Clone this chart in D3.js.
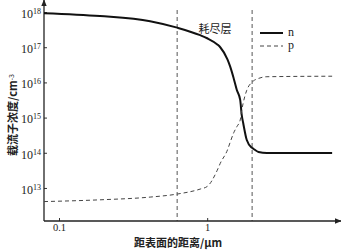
<!DOCTYPE html>
<html>
<head>
<meta charset="utf-8">
<script src="https://cdn.jsdelivr.net/npm/d3@7"></script>
<style>
  body { margin: 0; background: #fff; }
  svg { display: block; }
  .cjk { font-family: "Noto Sans CJK SC", sans-serif; fill: #222; }
</style>
</head>
<body>
<div id="chart"></div>
<script>
// distance from surface (um) and carrier densities (cm^-3)
const depth = [0.0792, 0.189, 0.412, 0.627, 0.897, 1.0, 1.17, 1.225, 1.37, 1.43, 1.51, 1.585, 1.67, 1.71, 1.75, 1.85, 2.0, 2.05, 2.22, 2.53, 6.97]
const nValues = [9.3e17, 7.7e17, 5.5e17, 3.6e17, 2.2e17, 1.8e17, 1.2e17, 1.0e17, 4.5e16, 2.8e16, 1.3e16, 6.1e15, 3.2e15, 1.2e15, 7e14, 2.3e14, 1.4e14, 1.3e14, 1.05e14, 9.8e13, 9.8e13]
const pValues = [4.1e12, 4.6e12, 5.5e12, 6.7e12, 9.3e12, 1.1e13, 3.2e13, 5e13, 1.2e14, 2e14, 3.7e14, 5.5e14, 8.5e14, 1.6e15, 2.6e15, 6e15, 1.0e16, 1.1e16, 1.3e16, 1.45e16, 1.5e16]
const depletionEdges = [0.627, 2.01]
const xTicks = [0.1, 1]
const xTickLabels = ["0.1", "1"]
const yTicks = [1e13, 1e14, 1e15, 1e16, 1e17, 1e18]
const yTickExponents = ["13", "14", "15", "16", "17", "18"]
const seriesNames = ["n", "p"]

const width = 341
const height = 250

const svg = d3.select("#chart").append("svg")
  .attr("width", width)
  .attr("height", height)

const x = d3.scaleLog().domain([0.0792, 8.0]).range([44, 341])
const y = d3.scaleLog().domain([1.15e12, 2.2e18]).range([221, 0])

svg.append("defs").append("marker")
    .attr("id", "arrow")
    .attr("viewBox", "0 0 10 10")
    .attr("refX", 9).attr("refY", 5)
    .attr("markerWidth", 7).attr("markerHeight", 7)
    .attr("markerUnits", "userSpaceOnUse")
    .attr("orient", "auto")
  .append("path")
    .attr("d", "M0,1 L10,5 L0,9 Z")
    .attr("fill", "#222")

// depletion region boundaries
svg.selectAll(".edge")
  .data(depletionEdges)
  .join("line")
    .attr("class", "edge")
    .attr("x1", d => x(d)).attr("x2", d => x(d))
    .attr("y1", 10).attr("y2", y.range()[0])
    .attr("stroke", "#555")
    .attr("stroke-width", 1)
    .attr("stroke-dasharray", "4 3")

// axes
const xAxis = svg.append("g")
  .attr("transform", `translate(0,${y.range()[0]})`)
  .attr("font-family", "Liberation Serif, serif")
  .call(d3.axisBottom(x).tickValues(xTicks).tickSize(-3).tickPadding(3)
    .tickFormat((d, i) => xTickLabels[i]))
xAxis.attr("font-family", "Liberation Serif, serif").attr("font-size", 10.5)
xAxis.select(".domain").remove()
xAxis.selectAll(".tick line").attr("stroke", "#333")
xAxis.selectAll(".tick text").attr("fill", "#222")

const yAxis = svg.append("g")
  .attr("transform", `translate(${x.range()[0]},0)`)
  .call(d3.axisLeft(y).tickValues(yTicks).tickSize(-3).tickPadding(3).tickFormat(() => ""))
yAxis.attr("font-family", "Liberation Serif, serif").attr("font-size", 12)
yAxis.select(".domain").remove()
yAxis.selectAll(".tick line").attr("stroke", "#333")
yAxis.selectAll(".tick text")
  .attr("fill", "#222")
  .attr("dy", "0.45em")
  .each(function(d, i) {
    const t = d3.select(this)
    t.append("tspan").text("10")
    t.append("tspan").text(yTickExponents[i]).attr("dy", "-0.5em").style("font-size", "8px")
  })

svg.append("line")
  .attr("x1", x.range()[0]).attr("x2", x.range()[1])
  .attr("y1", y.range()[0]).attr("y2", y.range()[0])
  .attr("stroke", "#222").attr("stroke-width", 1.3)
  .attr("marker-end", "url(#arrow)")

svg.append("line")
  .attr("x1", x.range()[0]).attr("x2", x.range()[0])
  .attr("y1", y.range()[0]).attr("y2", 0)
  .attr("stroke", "#222").attr("stroke-width", 1.3)
  .attr("marker-end", "url(#arrow)")

// curves
const line = d3.line()
  .x(d => x(d[0]))
  .y(d => y(d[1]))
  .curve(d3.curveMonotoneX)

svg.append("path")
  .datum(depth.map((d, i) => [d, nValues[i]]))
  .attr("d", line)
  .attr("fill", "none")
  .attr("stroke", "#111")
  .attr("stroke-width", 2)

svg.append("path")
  .datum(depth.map((d, i) => [d, pValues[i]]))
  .attr("d", line)
  .attr("fill", "none")
  .attr("stroke", "#444")
  .attr("stroke-width", 1)
  .attr("stroke-dasharray", "4 3")

// legend
const legend = svg.append("g").attr("transform", "translate(260,33)")
seriesNames.forEach((name, i) => {
  legend.append("line")
    .attr("x1", 0).attr("x2", 23)
    .attr("y1", i * 13).attr("y2", i * 13)
    .attr("stroke", i === 0 ? "#111" : "#444")
    .attr("stroke-width", i === 0 ? 2 : 1)
    .attr("stroke-dasharray", i === 0 ? null : "4 3")
  legend.append("text")
    .attr("x", 28).attr("y", i * 13 + 3)
    .style("font-family", "Liberation Serif, serif")
    .style("font-size", "12px")
    .attr("fill", "#222")
    .text(name)
})

svg.append("text")
  .attr("class", "cjk")
  .attr("x", 215).attr("y", 33)
  .attr("text-anchor", "middle")
  .style("font-size", "11px")
  .text("耗尽层")

svg.append("text")
  .attr("class", "cjk")
  .attr("x", 178).attr("y", 247)
  .attr("text-anchor", "middle")
  .style("font-size", "11px")
  .style("font-weight", "bold")
  .text("距表面的距离/μm")

const yLabel = svg.append("text")
  .attr("class", "cjk")
  .attr("transform", "translate(17,115) rotate(-90)")
  .attr("text-anchor", "middle")
  .style("font-size", "11px")
  .style("font-weight", "bold")
yLabel.append("tspan").text("载流子浓度/cm")
yLabel.append("tspan").text("-3").attr("dy", "-0.5em").style("font-size", "7px").style("font-weight", "normal")
</script>
</body>
</html>
